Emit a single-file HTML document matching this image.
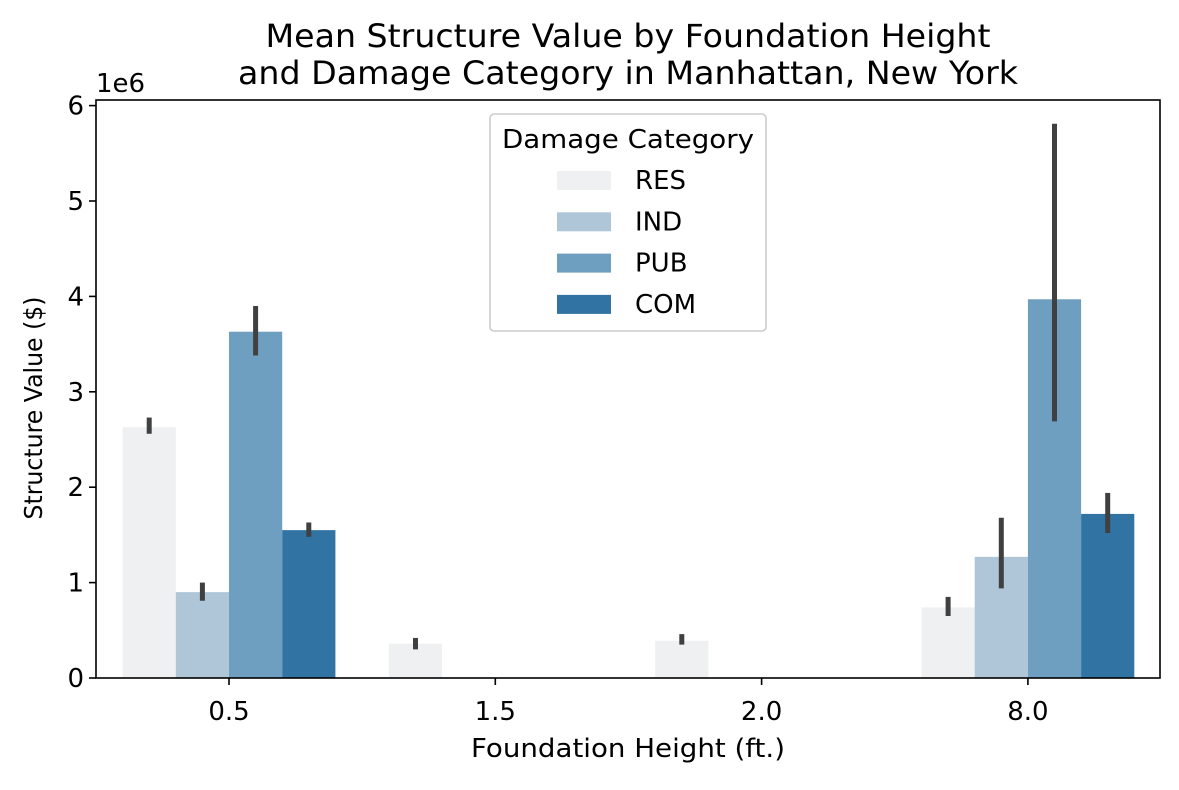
<!DOCTYPE html>
<html><head><meta charset="utf-8"><style>
body{margin:0;background:#fff;}
svg text{font-family:"DejaVu Sans","Liberation Sans",sans-serif;fill:#000;}
</style></head><body>
<svg id="chart" width="1179" height="785">
<text x="628" y="47" font-size="32" text-anchor="middle" textLength="725" lengthAdjust="spacingAndGlyphs">Mean Structure Value by Foundation Height</text>
<text x="628" y="84" font-size="32" text-anchor="middle" textLength="780" lengthAdjust="spacingAndGlyphs">and Damage Category in Manhattan, New York</text>
<g id="marks"></g>
<rect x="96" y="100" width="1064" height="578" fill="none" stroke="#000" stroke-width="1.6"/>
<text x="96" y="92" font-size="26">1e6</text>
<text x="628" y="757" font-size="26" text-anchor="middle" textLength="314" lengthAdjust="spacingAndGlyphs">Foundation Height (ft.)</text>
<text transform="translate(42,408) rotate(-90)" font-size="25" text-anchor="middle" textLength="223" lengthAdjust="spacingAndGlyphs">Structure Value ($)</text>
<g>
<rect x="490" y="114" width="276" height="217" rx="4" fill="#fff" fill-opacity="0.8" stroke="#ccc" stroke-width="1.6"/>
<text x="628" y="148" font-size="26" text-anchor="middle" textLength="252" lengthAdjust="spacingAndGlyphs">Damage Category</text>
<g id="legend-items"></g>
</g>
</svg>
<script>
const categories=["0.5","1.5","2.0","8.0"];
const seriesNames=["RES","IND","PUB","COM"];
const colors=["#eff0f2","#afc6d8","#6f9fc0","#3174a4"];
const resVals=[2.63,0.36,0.39,0.74];
const indVals=[0.90,null,null,1.27];
const pubVals=[3.63,null,null,3.97];
const comVals=[1.55,null,null,1.72];
const resErr=[[2.56,2.73],[0.30,0.42],[0.35,0.46],[0.65,0.85]];
const indErr=[[0.81,1.00],null,null,[0.94,1.68]];
const pubErr=[[3.38,3.90],null,null,[2.69,5.81]];
const comErr=[[1.48,1.63],null,null,[1.52,1.94]];
const yTicks=[0,1,2,3,4,5,6];
const NS="http://www.w3.org/2000/svg";
const y=v=>678-v*95.4;
const xc=i=>229+i*266.3;
const bw=53.2;
const vals=[resVals,indVals,pubVals,comVals];
const errs=[resErr,indErr,pubErr,comErr];
const g=document.getElementById('marks');
function mk(t,a,p){const e=document.createElementNS(NS,t);for(const k in a)e.setAttribute(k,a[k]);(p||g).appendChild(e);return e;}
vals.forEach((s,si)=>{s.forEach((v,ci)=>{if(v==null)return;
 const x0=xc(ci)-2*bw+si*bw;
 const r=mk('rect',{x:x0,y:y(v),width:bw,height:678-y(v),fill:colors[si]});
 
 
 const e=errs[si][ci];
 if(e){const l=mk('line',{x1:x0+bw/2,x2:x0+bw/2,y1:y(e[0]),y2:y(e[1]),stroke:'#404040','stroke-width':5});
 
 }
});});
yTicks.forEach(t=>{
 const l=mk('line',{x1:89,x2:96,y1:y(t),y2:y(t),stroke:'#000','stroke-width':1.6});
 
 
 const tx=mk('text',{x:84,y:y(t)+9,'font-size':26,'text-anchor':'end'});tx.textContent=t;
 
 
});
categories.forEach((c,i)=>{
 const l=mk('line',{x1:xc(i),x2:xc(i),y1:678,y2:685,stroke:'#000','stroke-width':1.6});
 
 
 const tx=mk('text',{x:xc(i),y:720,'font-size':26,'text-anchor':'middle'});tx.textContent=c;
 
 
});
const lg=document.getElementById('legend-items');
seriesNames.forEach((n,i)=>{
 const yy=180+i*41.3;
 const r=mk('rect',{x:557,y:yy-9,width:54,height:19,fill:colors[i]},lg);
 
 
 const t=mk('text',{x:635,y:yy+9,'font-size':26},lg);t.textContent=n;
 
 
});
</script>
</body></html>
